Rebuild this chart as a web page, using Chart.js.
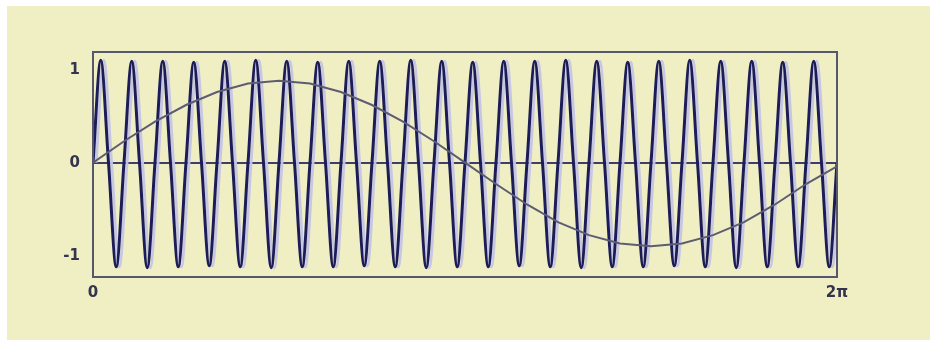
<!DOCTYPE html>
<html>
<head>
<meta charset="utf-8">
<script src="https://cdn.jsdelivr.net/npm/chart.js@4/dist/chart.umd.min.js"></script>
<style>
  html, body { margin: 0; padding: 0; background: #ffffff; }
  #panel {
    position: absolute; left: 7px; top: 6px;
    width: 923px; height: 334px;
    background: #f0efc4;
  }
  canvas { display: block; }
</style>
</head>
<body>
<div id="panel"><canvas id="chart" width="923" height="334"></canvas></div>
<script>
// Sample positions in quarter-cycles of the fast wave (0 .. 96 = one full turn, 0 .. 2π)
const fastX = [
  0, 1, 2, 3, 4, 5, 6, 7, 8, 9, 10, 11, 12, 13, 14, 15,
  16, 17, 18, 19, 20, 21, 22, 23, 24, 25, 26, 27, 28, 29, 30, 31,
  32, 33, 34, 35, 36, 37, 38, 39, 40, 41, 42, 43, 44, 45, 46, 47,
  48, 49, 50, 51, 52, 53, 54, 55, 56, 57, 58, 59, 60, 61, 62, 63,
  64, 65, 66, 67, 68, 69, 70, 71, 72, 73, 74, 75, 76, 77, 78, 79,
  80, 81, 82, 83, 84, 85, 86, 87, 88, 89, 90, 91, 92, 93, 94, 95,
  96
];

// Fast oscillation: zero, crest, zero, trough for each of its 24 cycles
const fastY = [
  0, 1.10, 0, -1.12,   0, 1.09, 0, -1.13,   0, 1.09, 0, -1.12,   0, 1.08, 0, -1.11,
  0, 1.09, 0, -1.12,   0, 1.10, 0, -1.13,   0, 1.09, 0, -1.12,   0, 1.08, 0, -1.12,
  0, 1.09, 0, -1.11,   0, 1.09, 0, -1.12,   0, 1.10, 0, -1.13,   0, 1.09, 0, -1.12,
  0, 1.08, 0, -1.12,   0, 1.09, 0, -1.11,   0, 1.09, 0, -1.12,   0, 1.10, 0, -1.13,
  0, 1.09, 0, -1.12,   0, 1.08, 0, -1.12,   0, 1.09, 0, -1.11,   0, 1.10, 0, -1.12,
  0, 1.09, 0, -1.13,   0, 1.09, 0, -1.12,   0, 1.08, 0, -1.12,   0, 1.09, 0, -1.12,
  0
];

// Slow wave, sampled every 15 degrees
const slowX = [0, 4, 8, 12, 16, 20, 24, 28, 32, 36, 40, 44, 48,
               52, 56, 60, 64, 68, 72, 76, 80, 84, 88, 92, 96];
const slowY = [0, 0.23, 0.44, 0.62, 0.76, 0.85, 0.88, 0.85, 0.76, 0.62, 0.44, 0.23, 0,
               -0.23, -0.45, -0.64, -0.78, -0.87, -0.90, -0.87, -0.78, -0.64, -0.45, -0.23, -0.04];

// Axis ticks
const xTickValues = [0, 96];
const xTickLabels = ['0', '2π'];
const yTickValues = [1, 0, -1];
const yTickLabels = ['1', '0', '-1'];

const ink = '#1c1c58';
const frameColor = '#56566c';
const labelColor = '#34344e';

// Box around the plotting area
const frame = {
  id: 'frame',
  afterDraw(chart) {
    const { ctx, chartArea: a } = chart;
    ctx.save();
    ctx.strokeStyle = frameColor;
    ctx.lineWidth = 2;
    ctx.strokeRect(a.left, a.top, a.right - a.left, a.bottom - a.top);
    ctx.restore();
  }
};

// Pale lavender edge alongside the fast wave's strokes
const halo = {
  id: 'halo',
  beforeDatasetDraw(chart, args) {
    if (args.meta.label !== 'fast') return;
    const ctx = chart.ctx;
    ctx.save();
    ctx.shadowColor = 'rgba(196,196,230,0.95)';
    ctx.shadowOffsetX = 3;
    ctx.shadowOffsetY = 0;
    ctx.shadowBlur = 0;
  },
  afterDatasetDraw(chart, args) {
    if (args.meta.label !== 'fast') return;
    chart.ctx.restore();
  }
};

new Chart(document.getElementById('chart'), {
  type: 'line',
  data: {
    datasets: [
      {
        label: 'slow',
        data: slowX.map((x, i) => ({ x, y: slowY[i] })),
        borderColor: '#5c5c72',
        borderWidth: 2,
        pointRadius: 0,
        tension: 0,
        order: 0
      },
      {
        label: 'fast',
        data: fastX.map((x, i) => ({ x, y: fastY[i] })),
        borderColor: ink,
        borderWidth: 3,
        pointRadius: 0,
        cubicInterpolationMode: 'monotone',
        order: 1
      }
    ]
  },
  options: {
    responsive: false,
    animation: false,
    devicePixelRatio: 1,
    layout: { padding: { top: 46, right: 93, bottom: 0, left: 0 } },
    plugins: {
      legend: { display: false },
      tooltip: { enabled: false }
    },
    scales: {
      x: {
        type: 'linear',
        min: 0,
        max: 96,
        afterBuildTicks(scale) { scale.ticks = xTickValues.map(v => ({ value: v })); },
        afterFit(scale) { scale.height = 63; },
        grid: { display: false, drawTicks: false },
        border: { display: false },
        ticks: {
          autoSkip: false,
          maxRotation: 0,
          padding: 7,
          color: labelColor,
          font: { family: 'DejaVu Sans', size: 15, weight: 'bold' },
          callback: (v, i) => xTickLabels[i]
        }
      },
      y: {
        min: -1.23,
        max: 1.19,
        afterBuildTicks(scale) { scale.ticks = yTickValues.map(v => ({ value: v })); },
        afterFit(scale) { scale.width = 86; },
        grid: {
          drawTicks: false,
          lineWidth: 2,
          color: ctx => (ctx.tick && ctx.tick.value === 0 ? '#3e3e68' : 'rgba(0,0,0,0)')
        },
        border: { display: false },
        ticks: {
          autoSkip: false,
          padding: 13,
          color: labelColor,
          font: { family: 'DejaVu Sans', size: 15, weight: 'bold' },
          callback: (v, i) => yTickLabels[i]
        }
      }
    }
  },
  plugins: [frame, halo]
});
</script>
</body>
</html>
